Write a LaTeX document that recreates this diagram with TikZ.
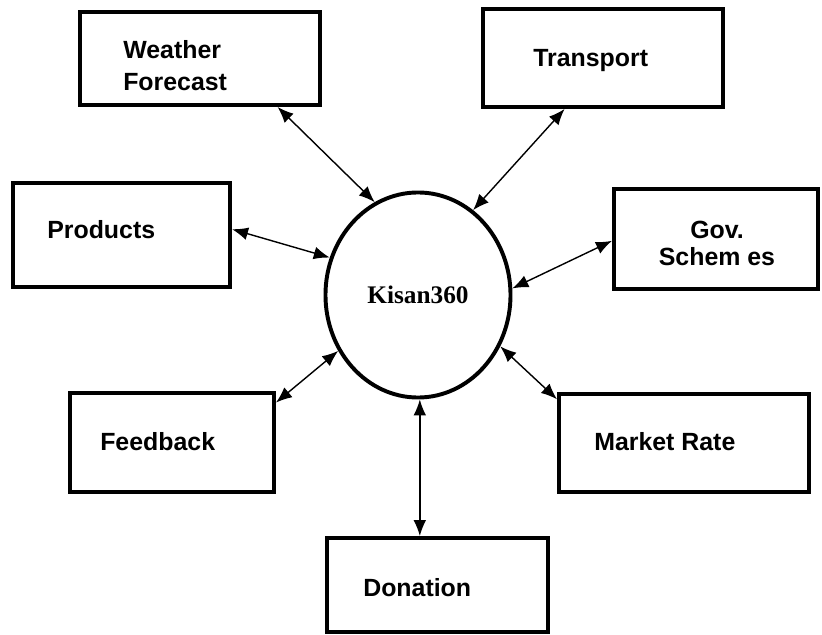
\documentclass[tikz,border=0pt]{standalone}
\usepackage{fontspec}
\setmainfont{Liberation Sans}
\newfontfamily\timesfont{Liberation Serif}
\usetikzlibrary{shapes.geometric,arrows.meta}

\tikzset{
	box/.style={draw, line width=2.8pt, inner sep=0pt},
	lbl/.style={font=\fontsize{17.7}{22.8}\selectfont\bfseries, inner sep=0pt},
	link/.style={line width=1pt, {Latex[length=0.4cm,width=0.32cm]}-{Latex[length=0.4cm,width=0.32cm]}}
}

\begin{document}
\begin{tikzpicture}[x=0.025cm, y=-0.025cm]
				\useasboundingbox (0, 0) rectangle (822, 635);
				
				\node[draw, ellipse, line width=2.8pt, inner sep=0pt, minimum width=4.625cm, minimum height=5.125cm,
					font=\timesfont\fontsize{18}{20}\selectfont\bfseries] (k) at (418, 295) {Kisan360};
				
				\node[box, minimum width=6cm, minimum height=2.325cm] (wf) at (200, 58.5) {};
				\node[box, minimum width=6cm, minimum height=2.45cm] (tr) at (603, 58) {};
				\node[box, minimum width=5.425cm, minimum height=2.6cm] (pr) at (121.5, 235) {};
				\node[box, minimum width=5.1cm, minimum height=2.5cm] (gv) at (716, 239) {};
				\node[box, minimum width=5.1cm, minimum height=2.475cm] (fb) at (172, 442.5) {};
				\node[box, minimum width=6.25cm, minimum height=2.45cm] (mr) at (684, 443) {};
				\node[box, minimum width=5.525cm, minimum height=2.35cm] (dn) at (437.5, 585) {};
				
				\node[lbl, anchor=base west, align=left] (wf-txt) at (123, 91) {Weather\\Forecast};
				\node[lbl, anchor=base west] (tr-txt) at (533, 67) {Transport};
				\node[lbl, anchor=base west] (pr-txt) at (47, 239) {Products};
				\node[lbl, anchor=base, align=center, font=\fontsize{17.7}{19.2}\selectfont\bfseries] (gv-txt) at (717, 266) {Gov.\\Schem es};
				\node[lbl, anchor=base west] (fb-txt) at (100, 451) {Feedback};
				\node[lbl, anchor=base west] (mr-txt) at (594, 451) {Market Rate};
				\node[lbl, anchor=base west] (dn-txt) at (363, 596) {Donation};
				
				\draw[link] (wf.-32) -- (k.115.8);
				\draw[link] (tr.233) -- (k.57.1);
				\draw[link] (pr.3.7) -- (k.157.1);
				\draw[link] (gv.181.7) -- (k.4.9);
				\draw[link] (fb.21.7) -- (k.215.6);
				\draw[link] (mr.161.8) -- (k.328.3);
				\draw[link] (k.271.6) -- (k.271.6 |- dn.north);
\end{tikzpicture}
\end{document}
